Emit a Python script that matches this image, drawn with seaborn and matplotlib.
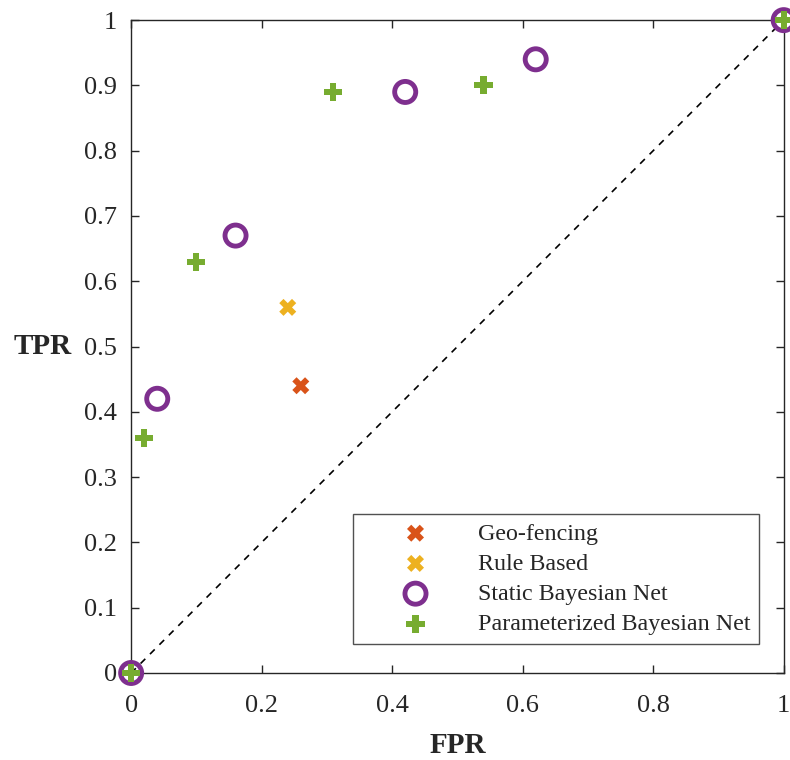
import matplotlib
matplotlib.use("Agg")
import matplotlib.pyplot as plt
import seaborn as sns
import pandas as pd

# ROC operating points
geo_fpr = [0.26]
geo_tpr = [0.44]
rule_fpr = [0.24]
rule_tpr = [0.56]
static_fpr = [0.0, 0.04, 0.16, 0.42, 0.62, 1.0]
static_tpr = [0.0, 0.42, 0.67, 0.89, 0.94, 1.0]
param_fpr = [0.0, 0.02, 0.10, 0.31, 0.54, 1.0]
param_tpr = [0.0, 0.36, 0.63, 0.89, 0.90, 1.0]

x_ticks = [0, 0.2, 0.4, 0.6, 0.8, 1]
x_labels = ["0", "0.2", "0.4", "0.6", "0.8", "1"]
y_ticks = [0, 0.1, 0.2, 0.3, 0.4, 0.5, 0.6, 0.7, 0.8, 0.9, 1]
y_labels = ["0", "0.1", "0.2", "0.3", "0.4", "0.5", "0.6", "0.7", "0.8", "0.9", "1"]

sns.set_theme(style="white")
plt.rcParams["font.family"] = ["Liberation Serif", "DejaVu Serif"]

fig = plt.figure(figsize=(7.9, 7.6), dpi=100)
ax = fig.add_axes([0.166, 0.1145, 0.826, 0.859])

# chance diagonal
ax.plot([0, 1], [0, 1], ls=(0, (4, 4)), color="black", lw=1.2, zorder=1)

geo = pd.DataFrame({"FPR": geo_fpr, "TPR": geo_tpr})
rule = pd.DataFrame({"FPR": rule_fpr, "TPR": rule_tpr})
stat = pd.DataFrame({"FPR": static_fpr, "TPR": static_tpr})
par = pd.DataFrame({"FPR": param_fpr, "TPR": param_tpr})

sns.scatterplot(data=geo, x="FPR", y="TPR", ax=ax, marker="X", s=150,
                color="#D95319", edgecolor="none", label="Geo-fencing",
                clip_on=False, zorder=3)
sns.scatterplot(data=rule, x="FPR", y="TPR", ax=ax, marker="X", s=150,
                color="#EDB120", edgecolor="none", label="Rule Based",
                clip_on=False, zorder=3)
sns.scatterplot(data=stat, x="FPR", y="TPR", ax=ax, marker="o", s=230,
                facecolor="none", edgecolor="#7E2F8E", linewidth=3.5,
                label="Static Bayesian Net", clip_on=False, zorder=4)
sns.scatterplot(data=par, x="FPR", y="TPR", ax=ax, marker="P", s=170,
                color="#77AC30", edgecolor="none",
                label="Parameterized Bayesian Net", clip_on=False, zorder=5)

ax.set_xlim(0, 1)
ax.set_ylim(0, 1)
ax.set_xticks(x_ticks)
ax.set_xticklabels(x_labels)
ax.set_yticks(y_ticks)
ax.set_yticklabels(y_labels)

for side in ["left", "right", "top", "bottom"]:
    ax.spines[side].set_visible(True)
    ax.spines[side].set_color("#262626")
    ax.spines[side].set_linewidth(1.0)

ax.tick_params(direction="in", length=6, width=1, color="#262626",
               top=True, right=True, left=True, bottom=True,
               labelsize=19, labelcolor="#262626")
ax.tick_params(axis="x", pad=16)
ax.tick_params(axis="y", pad=10)

ax.set_xlabel("FPR", fontsize=21, fontweight="bold", color="#262626", labelpad=11)
ax.set_ylabel("TPR", fontsize=21, fontweight="bold", color="#262626",
              rotation=0, va="center")
ax.yaxis.set_label_coords(-0.135, 0.5)

leg = ax.legend(loc="lower right", bbox_to_anchor=(0.962, 0.045),
                fontsize=17.3, frameon=True, fancybox=False,
                edgecolor="#262626", handletextpad=0.35, borderpad=0.35,
                labelspacing=0.35, handlelength=4.5, borderaxespad=0)
leg.get_frame().set_linewidth(1.0)

fig.savefig("out.png", dpi=100, facecolor="white")
